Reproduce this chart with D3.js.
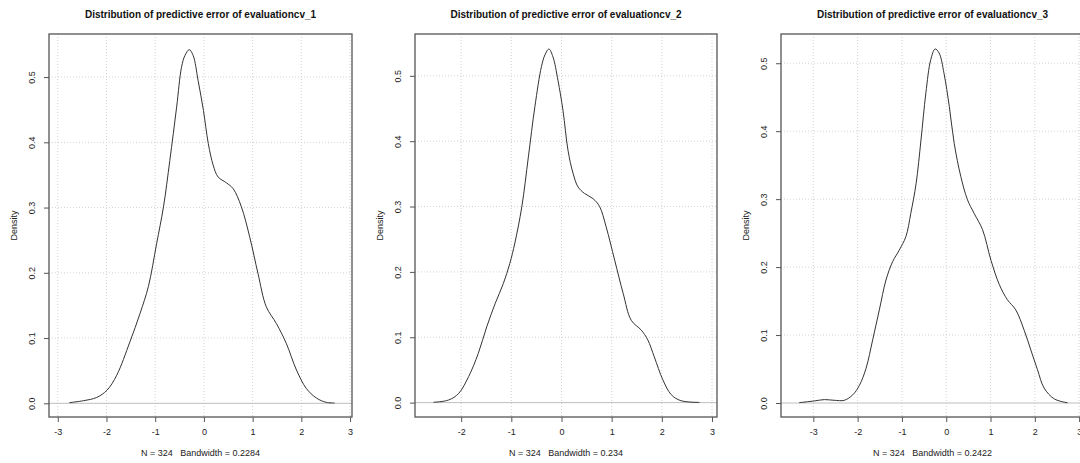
<!DOCTYPE html>
<html>
<head>
<meta charset="utf-8">
<script src="https://cdn.jsdelivr.net/npm/d3@7"></script>
<style>
  body { margin: 0; background: #fff; }
  svg { display: block; font-family: "Liberation Sans", Arial, sans-serif; }
  .grid line { stroke: #d3d3d3; stroke-dasharray: 1,2; stroke-width: 1; }
</style>
</head>
<body>
<svg id="chart" width="1080" height="463"></svg>
<script>
// values
var titles = ['Distribution of predictive error of evaluationcv_1',
              'Distribution of predictive error of evaluationcv_2',
              'Distribution of predictive error of evaluationcv_3'];
var subtitles = ['N = 324   Bandwidth = 0.2284',
                 'N = 324   Bandwidth = 0.234',
                 'N = 324   Bandwidth = 0.2422'];

var err1 = [-2.76,-2.47,-2.20,-1.99,-1.79,-1.52,-1.31,-1.14,-0.97,-0.83,-0.70,-0.56,-0.46,-0.39,-0.30,-0.22,-0.12,-0.01,0.09,0.19,0.29,0.46,0.60,0.77,0.94,1.11,1.28,1.49,1.69,1.90,2.10,2.31,2.51,2.68];
var dens1 = [0.001,0.004,0.009,0.020,0.043,0.094,0.138,0.179,0.245,0.301,0.372,0.454,0.515,0.533,0.542,0.533,0.495,0.449,0.398,0.365,0.347,0.338,0.329,0.301,0.255,0.199,0.148,0.122,0.092,0.051,0.023,0.008,0.0015,0.0005];

var err2 = [-2.55,-2.25,-2.05,-1.85,-1.66,-1.49,-1.32,-1.16,-1.03,-0.93,-0.79,-0.66,-0.53,-0.40,-0.33,-0.25,-0.17,-0.07,0.03,0.13,0.23,0.33,0.46,0.63,0.76,0.89,1.06,1.23,1.39,1.59,1.72,1.85,2.02,2.19,2.38,2.75];
var dens2 = [0.0005,0.004,0.014,0.040,0.075,0.116,0.152,0.182,0.213,0.244,0.300,0.376,0.453,0.514,0.532,0.541,0.529,0.493,0.447,0.386,0.351,0.330,0.320,0.312,0.300,0.269,0.218,0.167,0.126,0.111,0.096,0.070,0.035,0.012,0.003,0.0003];

var err3 = [-3.32,-2.98,-2.75,-2.53,-2.30,-2.11,-1.96,-1.81,-1.66,-1.51,-1.36,-1.21,-1.06,-0.91,-0.80,-0.68,-0.57,-0.46,-0.35,-0.25,-0.16,-0.05,0.07,0.18,0.33,0.48,0.63,0.82,1.01,1.20,1.38,1.57,1.76,1.91,2.06,2.21,2.44,2.74];
var dens3 = [0.0005,0.003,0.005,0.004,0.004,0.012,0.026,0.051,0.093,0.137,0.181,0.208,0.225,0.245,0.279,0.323,0.387,0.456,0.505,0.521,0.515,0.485,0.436,0.382,0.333,0.299,0.279,0.255,0.210,0.174,0.152,0.137,0.107,0.078,0.049,0.022,0.006,0.0003];

var xTicks1 = [-3,-2,-1,0,1,2,3];
var xTicks2 = [-2,-1,0,1,2,3];
var xTicks3 = [-3,-2,-1,0,1,2,3];
var yTicks = [0,0.1,0.2,0.3,0.4,0.5];

var panels = [
  {title: titles[0], sub: subtitles[0], xs: err1, ys: dens1, xt: xTicks1,
   box: [49, 352], xdom: [-3.18, 3.04], ydom: [-0.021, 0.566]},
  {title: titles[1], sub: subtitles[1], xs: err2, ys: dens2, xt: xTicks2,
   box: [415, 717], xdom: [-2.92, 3.10], ydom: [-0.022, 0.564]},
  {title: titles[2], sub: subtitles[2], xs: err3, ys: dens3, xt: xTicks3,
   box: [781, 1084], xdom: [-3.73, 3.11], ydom: [-0.0206, 0.543]}
];

var plotTop = 34, plotBottom = 417;
var svg = d3.select('#chart');

panels.forEach(function(p) {
  var x = d3.scaleLinear().domain(p.xdom).range(p.box);
  var y = d3.scaleLinear().domain(p.ydom).range([plotBottom, plotTop]);
  var g = svg.append('g');

  // grid
  var grid = g.append('g').attr('class', 'grid');
  grid.selectAll('.gx').data(p.xt).enter().append('line')
    .attr('x1', d => x(d)).attr('x2', d => x(d))
    .attr('y1', plotTop).attr('y2', plotBottom);
  grid.selectAll('.gy').data(yTicks.slice(1)).enter().append('line')
    .attr('x1', p.box[0]).attr('x2', p.box[1])
    .attr('y1', d => y(d)).attr('y2', d => y(d));

  // zero line
  g.append('line').attr('x1', p.box[0]).attr('x2', p.box[1])
    .attr('y1', y(0)).attr('y2', y(0))
    .attr('stroke', '#bebebe').attr('stroke-width', 1);

  // density curve
  var pts = p.xs.map((v, i) => [v, p.ys[i]]);
  g.append('path').datum(pts)
    .attr('fill', 'none').attr('stroke', '#333').attr('stroke-width', 1)
    .attr('d', d3.line().x(d => x(d[0])).y(d => y(d[1])).curve(d3.curveCatmullRom.alpha(0.5)));

  // axes
  var xa = g.append('g').attr('transform', `translate(0,${plotBottom})`)
    .call(d3.axisBottom(x).tickValues(p.xt).tickSize(5).tickSizeOuter(0).tickFormat(d3.format('d')));
  xa.select('.domain').remove();
  xa.selectAll('line').attr('stroke', '#555');
  xa.selectAll('text').attr('y', 16).attr('dy', null).attr('dominant-baseline', 'middle')
    .attr('font-size', 9).attr('fill', '#222')
    .attr('font-family', '"Liberation Sans", Arial, sans-serif')
    .text(d => d < 0 ? '-' + Math.abs(d) : d);

  var ya = g.append('g').attr('transform', `translate(${p.box[0]},0)`)
    .call(d3.axisLeft(y).tickValues(yTicks).tickSize(5).tickSizeOuter(0).tickFormat(d3.format('.1f')));
  ya.select('.domain').remove();
  ya.selectAll('line').attr('stroke', '#555');
  ya.selectAll('text').attr('font-size', 9).attr('fill', '#222')
    .attr('font-family', '"Liberation Sans", Arial, sans-serif')
    .attr('text-anchor', 'middle').attr('dy', null).attr('x', null)
    .attr('transform', 'translate(-16,0) rotate(-90)').attr('dominant-baseline', 'middle');

  // box
  g.append('rect').attr('x', p.box[0]).attr('y', plotTop)
    .attr('width', p.box[1] - p.box[0]).attr('height', plotBottom - plotTop)
    .attr('fill', 'none').attr('stroke', '#555').attr('stroke-width', 1.3);

  var cx = (p.box[0] + p.box[1]) / 2;
  g.append('text').attr('x', cx).attr('y', 15).attr('text-anchor', 'middle')
    .attr('dominant-baseline', 'middle').attr('font-size', 10).attr('font-weight', 'bold')
    .attr('fill', '#111').text(p.title);
  g.append('text').attr('x', cx).attr('y', 454).attr('text-anchor', 'middle')
    .attr('dominant-baseline', 'middle').attr('font-size', 9).attr('fill', '#222')
    .style('white-space', 'pre').text(p.sub);
  g.append('text').attr('transform', `translate(${p.box[0] - 34},${(plotTop + plotBottom) / 2}) rotate(-90)`)
    .attr('text-anchor', 'middle').attr('dominant-baseline', 'middle')
    .attr('font-size', 9).attr('fill', '#222').text('Density');
});
</script>
</body>
</html>
